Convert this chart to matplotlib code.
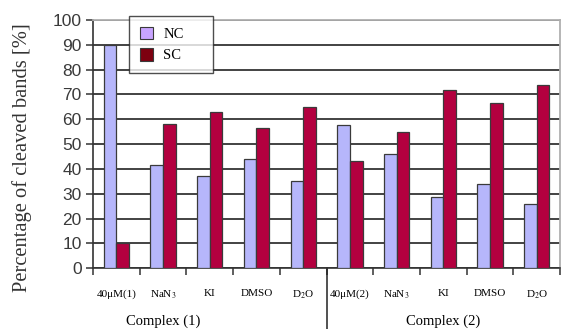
import matplotlib
matplotlib.use('Agg')
import matplotlib.pyplot as plt
import matplotlib.transforms as mtransforms
from matplotlib.patches import Patch
import numpy as np

plt.rcParams['mathtext.fontset'] = 'stix'

SERIF = 'Liberation Serif'
SANS = 'Liberation Sans'
NC_COLOR = '#b6b6fb'
SC_COLOR = '#b3003f'
EDGE = '#3a3a3a'

labels = ['40μM(1)', 'NaN$_3$', 'KI', 'DMSO', 'D$_2$O',
          '40μM(2)', 'NaN$_3$', 'KI', 'DMSO', 'D$_2$O']
nc = [90, 41.5, 37, 44, 35, 57.5, 46, 28.5, 34, 26]
sc = [10, 58, 63, 56.5, 65, 43, 55, 72, 66.5, 74]
groups = ['Complex (1)', 'Complex (2)']

fig = plt.figure(figsize=(5.63, 3.29), dpi=100, facecolor='white')
ax = fig.add_axes([0.165, 0.185, 0.83, 0.754])

x = np.arange(len(labels))
w = 0.27
ax.bar(x - w / 2, nc, width=w, color=NC_COLOR, edgecolor=EDGE, linewidth=0.9, zorder=3)
ax.bar(x + w / 2, sc, width=w, color=SC_COLOR, edgecolor=EDGE, linewidth=0.9, zorder=3)

ax.set_xlim(-0.5, len(labels) - 0.5)
ax.set_ylim(0, 100)
ax.set_yticks(range(0, 101, 10))
ax.yaxis.grid(True, color='#222222', linewidth=1.2, zorder=0)
ax.set_axisbelow(True)
ax.tick_params(axis='y', length=5, width=1.1, color='#333333', pad=3,
               labelsize=12.5, labelcolor='#3a3a3a')
for t in ax.get_yticklabels():
    t.set_fontfamily(SANS)

# group boundary ticks, category names on minor ticks
ax.set_xticks(np.arange(-0.5, len(labels), 1.0))
ax.set_xticklabels([])
ax.tick_params(axis='x', which='major', length=5, width=1.1, color='#333333')
ax.set_xticks(x, minor=True)
ax.set_xticklabels(labels, minor=True, fontsize=8, family=SERIF)
ax.tick_params(axis='x', which='minor', length=0, pad=15)

for side in ['top', 'right']:
    ax.spines[side].set_color('#b0b0b0')
    ax.spines[side].set_linewidth(1.3)
ax.spines['left'].set_color('#333333')
ax.spines['left'].set_linewidth(1.2)
ax.spines['bottom'].set_color('#333333')
ax.spines['bottom'].set_linewidth(1.2)

# separator between the two complexes
trans = mtransforms.blended_transform_factory(ax.transData, ax.transAxes)
ax.plot([4.5, 4.5], [0, -0.26], transform=trans, color='#222222',
        linewidth=1.1, clip_on=False)
ax.text(1.0, -0.215, groups[0], transform=trans, ha='center', va='center',
        fontsize=10.5, family=SERIF)
ax.text(7.0, -0.215, groups[1], transform=trans, ha='center', va='center',
        fontsize=10.5, family=SERIF)

fig.text(0.04, 0.52, 'Percentage of cleaved bands [%]', rotation=90,
         ha='center', va='center', fontsize=14.8, family=SERIF, color='#333333')

handles = [Patch(facecolor='#c8a4ff', edgecolor=EDGE, linewidth=0.8),
           Patch(facecolor='#7d0010', edgecolor=EDGE, linewidth=0.8)]
leg = ax.legend(handles, ['NC', 'SC'], loc='upper left', mode='expand',
                bbox_to_anchor=(0.077, 1.016, 0.18, 0.0), frameon=True,
                fancybox=False, edgecolor='#222222',
                prop={'family': SERIF, 'size': 10.5},
                handlelength=0.9, handleheight=0.9, handletextpad=0.7,
                labelspacing=0.5, borderpad=0.75, borderaxespad=0)
leg.get_frame().set_linewidth(1.0)
leg.set_zorder(5)

fig.savefig('out.png', dpi=100, facecolor='white')
